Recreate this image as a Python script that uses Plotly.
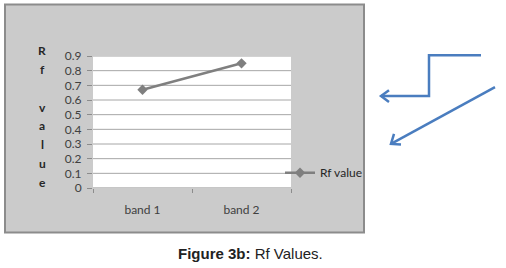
import plotly.graph_objects as go

categories = ["band 1", "band 2"]
rf_values = [0.67, 0.85]
y_ticks = [0, 0.1, 0.2, 0.3, 0.4, 0.5, 0.6, 0.7, 0.8, 0.9]
y_tick_labels = ["0", "0.1", "0.2", "0.3", "0.4", "0.5", "0.6", "0.7", "0.8", "0.9"]
y_title_letters = ["R", "f", "", "v", "a", "l", "u", "e"]
series_name = "Rf value"

W, H = 506, 268
L, R, T, B = 93, 215, 55.7, 79.7
PW, PH = W - L - R, H - T - B

def px(x):
    return (x - L) / PW

def py(y):
    return (H - B - y) / PH

x_lo, x_hi = -0.5, len(categories) - 0.5
y_lo, y_hi = y_ticks[0], y_ticks[-1]

fig = go.Figure()
fig.add_trace(go.Scatter(
    x=categories, y=rf_values, name=series_name, mode="lines+markers",
    line=dict(color="#7f7f7f", width=2.5),
    marker=dict(symbol="diamond", size=8, color="#7f7f7f"),
    showlegend=True,
))

shapes = []
# white plot area and gridlines, drawn beneath the trace
shapes.append(dict(type="rect", xref="x", yref="y", x0=x_lo, x1=x_hi, y0=y_lo, y1=y_hi,
                   fillcolor="white", line=dict(width=0), layer="between"))
for v in y_ticks:
    shapes.append(dict(type="line", xref="x", yref="y", x0=x_lo, x1=x_hi, y0=v, y1=v,
                       line=dict(color="#8c8c8c" if v == 0 else "#a6a6a6", width=1),
                       layer="between"))

# paper is grey; white strips outside the chart frame
fx0, fx1, fy0, fy1 = 5, 364, 4, 233
for (a, b, c, d) in [(-5, W + 5, -5, fy0), (-5, W + 5, fy1, H + 5), (-5, fx0, -5, H + 5), (fx1, W + 5, -5, H + 5)]:
    shapes.append(dict(type="rect", xref="paper", yref="paper",
                       x0=px(a), x1=px(b), y0=py(d), y1=py(c),
                       fillcolor="white", line=dict(width=0), layer="above"))
shapes.append(dict(type="rect", xref="paper", yref="paper",
                   x0=px(fx0), x1=px(fx1), y0=py(fy1), y1=py(fy0),
                   fillcolor="rgba(0,0,0,0)", line=dict(color="#8c8c8c", width=2), layer="above"))

blue = "#4a7dbf"
# stepped arrow
shapes.append(dict(type="path", xref="paper", yref="paper", layer="above",
                   path=f"M{px(481)},{py(55)} L{px(429)},{py(55)} L{px(429)},{py(96)} L{px(381)},{py(96)}",
                   line=dict(color=blue, width=2.5)))
shapes.append(dict(type="path", xref="paper", yref="paper", layer="above",
                   path=f"M{px(389)},{py(90)} L{px(381)},{py(96)} L{px(389)},{py(102)}",
                   line=dict(color=blue, width=2.5)))
# diagonal arrow
shapes.append(dict(type="path", xref="paper", yref="paper", layer="above",
                   path=f"M{px(495)},{py(87)} L{px(391)},{py(144)}",
                   line=dict(color=blue, width=2.5)))
shapes.append(dict(type="path", xref="paper", yref="paper", layer="above",
                   path=f"M{px(394)},{py(134)} L{px(391)},{py(144)} L{px(401)},{py(144.5)}",
                   line=dict(color=blue, width=2.5)))

annotations = []
for i, ch in enumerate(y_title_letters):
    if ch:
        annotations.append(dict(text=f"<b>{ch}</b>", xref="paper", yref="paper",
                                x=px(42), y=py(50 + i * 19), showarrow=False,
                                font=dict(family="Lato", size=12, color="#262626"),
                                xanchor="center", yanchor="middle"))
annotations.append(dict(text="<b>Figure 3b:</b> Rf Values.", xref="paper", yref="paper",
                        x=px(250), y=py(254), showarrow=False,
                        font=dict(family="Liberation Sans, Arial", size=15, color="#222"),
                        xanchor="center", yanchor="middle"))

fig.update_layout(
    width=W, height=H,
    margin=dict(l=L, r=R, t=T, b=B, pad=0),
    paper_bgcolor="#cbcbcb", plot_bgcolor="white",
    shapes=shapes, annotations=annotations,
    legend=dict(x=px(280), y=py(173), xanchor="left", yanchor="middle",
                bgcolor="rgba(0,0,0,0)", font=dict(family="Lato", size=12, color="#262626"),
                itemwidth=30, tracegroupgap=0),
    xaxis=dict(type="category", range=[x_lo, x_hi], tickson="boundaries",
               ticks="outside", ticklen=4, tickcolor="#8c8c8c", showgrid=False,
               showline=False, zeroline=False,
               tickfont=dict(family="Lato", size=12, color="#404040"),
               ticklabelstandoff=13),
    yaxis=dict(range=[y_lo, y_hi], tickvals=y_ticks, ticktext=y_tick_labels,
               ticks="outside", ticklen=5, tickcolor="#8c8c8c",
               showgrid=False, zeroline=False,
               showline=False, ticklabelstandoff=3,
               tickfont=dict(family="Lato", size=12, color="#404040")),
    font=dict(family="Lato"),
)

fig.write_html("out.html")
